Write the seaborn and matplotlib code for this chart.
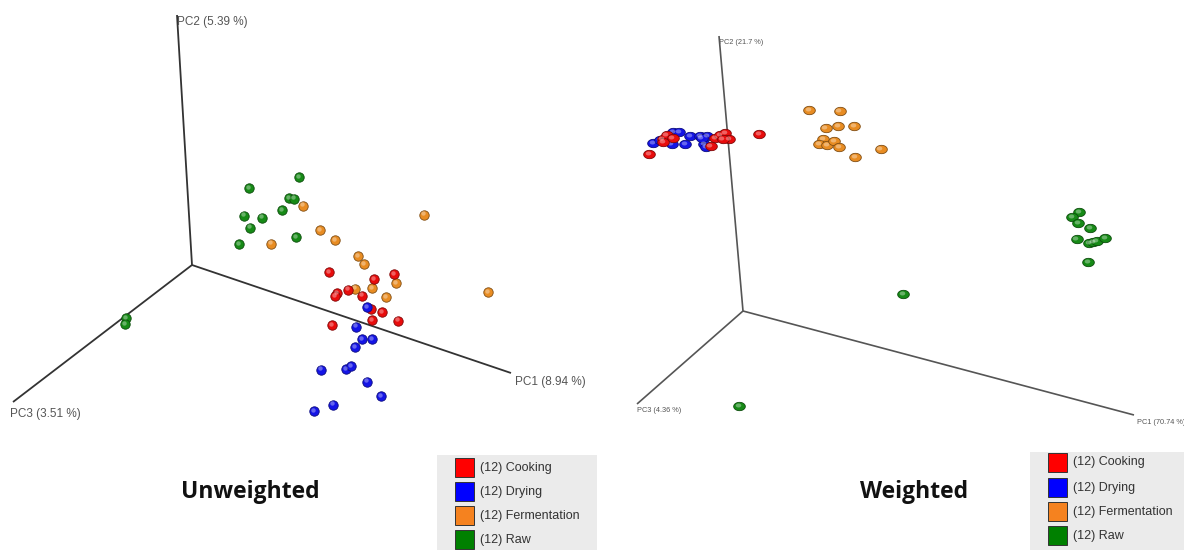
import numpy as np
import pandas as pd
import matplotlib
matplotlib.use("Agg")
import matplotlib.pyplot as plt
import matplotlib.colors as mcolors
from matplotlib.path import Path
from matplotlib.patches import Rectangle
import seaborn as sns

# ---- groups -------------------------------------------------------------
groups = ["Cooking", "Drying", "Fermentation", "Raw"]
legend_colors = {"Cooking": "#ff0000", "Drying": "#0000ff",
                 "Fermentation": "#f5821f", "Raw": "#008000"}
sphere_colors = {"Cooking": "#e80c0c", "Drying": "#1414e6",
                 "Fermentation": "#e88c22", "Raw": "#168a16"}

# ---- Unweighted UniFrac PCoA (projected scene coordinates) ---------------
uw_axis_labels = ["PC1 (8.94 %)", "PC2 (5.39 %)", "PC3 (3.51 %)"]
uw_origin = (192, 265)
uw_axis_ends = [(511, 373), (177, 15), (13, 402)]

uw_cooking_x = [329, 394.3, 374, 348.3, 337.3, 335.3, 361.7, 371.3, 381.7, 372, 398, 332.3]
uw_cooking_y = [272, 274, 279.3, 289.7, 293.3, 296, 295.7, 308.7, 312, 320, 320.7, 325]
uw_drying_x = [366.7, 356, 361.7, 372.3, 355.3, 320.7, 345.7, 351.3, 367.3, 381.3, 332.7, 314]
uw_drying_y = [307.3, 326.7, 339, 339, 347, 369.7, 369, 366.3, 381.7, 396.3, 404.7, 411]
uw_ferm_x = [302.7, 423.7, 320.3, 335, 271.3, 358, 364, 396, 372.3, 355.3, 385.7, 487.7]
uw_ferm_y = [205.7, 214.7, 230.3, 240, 243.7, 256.3, 264, 283, 288.3, 288.7, 297, 292]
uw_raw_x = [299.3, 249.3, 289.3, 294, 282.3, 244.3, 262, 250.3, 295.7, 239.3, 126, 125]
uw_raw_y = [177.3, 188.3, 198.3, 198.7, 210, 215.7, 217.7, 227.7, 237.3, 244, 318, 324]

# ---- Weighted UniFrac PCoA ----------------------------------------------
w_axis_labels = ["PC1 (70.74 %)", "PC2 (21.7 %)", "PC3 (4.36 %)"]
w_origin = (743, 311)
w_axis_ends = [(1134, 415), (719, 36), (637, 404)]

w_drying_x = [653.3, 673.3, 679.3, 690, 671.7, 685, 700, 707.3, 704, 706, 660, 701.7]
w_drying_y = [142.7, 132.3, 131.7, 136.3, 143.7, 144.3, 135.7, 135.7, 144.3, 147.3, 140, 138.3]
w_cooking_x = [649, 662.7, 666.7, 672.7, 710.7, 715, 720, 725, 729.3, 722.7, 759, 663.3]
w_cooking_y = [154.3, 139, 135, 138.3, 145.7, 137.7, 135, 133.3, 139, 139, 134.3, 141.7]
w_ferm_x = [809, 839.7, 825.7, 838.3, 854.3, 823.3, 819.3, 827.3, 834.3, 839.3, 855.3, 880.7]
w_ferm_y = [109.7, 111.3, 128, 126, 126.3, 139.3, 144, 145, 141, 147, 157, 148.7]
w_raw_x = [1079, 1072, 1078.3, 1090.3, 1076.7, 1089.3, 1093.3, 1096.7, 1105, 1088.3, 903, 739]
w_raw_y = [211.7, 217.3, 223.3, 227.7, 239.3, 243.3, 242.3, 241, 238.3, 262.3, 294, 406]


def frame(xs, ys, order):
    rows = []
    for g, x, y in zip(order, xs, ys):
        rows.append(pd.DataFrame({"x": x, "y": y, "group": g}))
    return pd.concat(rows, ignore_index=True)


uw_df = frame([uw_raw_x, uw_ferm_x, uw_cooking_x, uw_drying_x],
              [uw_raw_y, uw_ferm_y, uw_cooking_y, uw_drying_y],
              ["Raw", "Fermentation", "Cooking", "Drying"])
w_df = frame([w_drying_x, w_cooking_x, w_ferm_x, w_raw_x],
             [w_drying_y, w_cooking_y, w_ferm_y, w_raw_y],
             ["Drying", "Cooking", "Fermentation", "Raw"])

sns.set_theme(style="white")
plt.rcParams["font.family"] = ["Liberation Sans", "DejaVu Sans"]

fig = plt.figure(figsize=(11.84, 5.5), dpi=100)
ax = fig.add_axes([0, 0, 1, 1])
ax.set_xlim(0, 1184)
ax.set_ylim(550, 0)
ax.axis("off")

# flattened sphere outline for the weighted scene
t = np.linspace(0, 2 * np.pi, 60)
ellipse = Path(np.c_[np.cos(t), 0.72 * np.sin(t)], closed=True)


def draw_axes(origin, ends, labels, lw, color, fsize, offsets):
    for end, lab, off in zip(ends, labels, offsets):
        ax.plot([origin[0], end[0]], [origin[1], end[1]], color=color, lw=lw,
                solid_capstyle="butt", zorder=1)
        ax.text(end[0] + off[0], end[1] + off[1], lab, fontsize=fsize,
                color="#555555", ha="left", va="center", zorder=1)


def draw_spheres(df, size, marker, hl_size, hl_off):
    edge = {g: mcolors.to_hex(np.array(mcolors.to_rgb(c)) * 0.55)
            for g, c in sphere_colors.items()}
    for g, sub in df.groupby("group", sort=False):
        sns.scatterplot(data=sub, x="x", y="y", color=sphere_colors[g], s=size,
                        marker=marker, edgecolor=edge[g], linewidth=0.6,
                        ax=ax, legend=False, zorder=3)
        hl = sub.assign(x=sub["x"] + hl_off[0], y=sub["y"] + hl_off[1])
        sns.scatterplot(data=hl, x="x", y="y", color="white", s=hl_size,
                        marker=marker, linewidth=0, alpha=0.35,
                        ax=ax, legend=False, zorder=3)


draw_axes(uw_origin, uw_axis_ends, uw_axis_labels, 1.3, "#333333", 8.5,
          [(4, 9), (0, 7), (-3, 12)])
draw_axes(w_origin, w_axis_ends, w_axis_labels, 1.2, "#555555", 5.3,
          [(3, 7), (0, 6), (0, 6)])

draw_spheres(uw_df, 46, "o", 10, (-1.2, -1.4))
draw_spheres(w_df, 70, ellipse, 16, (-1.5, -1.0))

ax.set_xlabel("")
ax.set_ylabel("")

# ---- titles ---------------------------------------------------------------
ax.text(250, 492, "Unweighted", fontsize=16.5, fontweight="bold",
        family=["Open Sans", "DejaVu Sans"], ha="center", va="center",
        color="#111111")
ax.text(914, 492, "Weighted", fontsize=16.5, fontweight="bold",
        family=["Open Sans", "DejaVu Sans"], ha="center", va="center",
        color="#111111")


# ---- legends ---------------------------------------------------------------
def draw_legend(x0, y0, w, h, sq_x, rows_y, counts):
    ax.add_patch(Rectangle((x0, y0), w, h, facecolor="#ebebeb",
                           edgecolor="none", zorder=4))
    for g, yy in zip(groups, rows_y):
        ax.add_patch(Rectangle((sq_x, yy - 9), 19, 19,
                               facecolor=legend_colors[g],
                               edgecolor="#333333", lw=0.7, zorder=5))
        ax.text(sq_x + 25, yy + 0.5, f"({counts[g]}) {g}", fontsize=9,
                color="#333333", ha="left", va="center", zorder=5)


uw_counts = uw_df["group"].value_counts().to_dict()
w_counts = w_df["group"].value_counts().to_dict()
draw_legend(437, 455, 160, 95, 455, [467, 491, 515, 539], uw_counts)
draw_legend(1030, 452, 154, 98, 1048, [462, 487, 511, 535], w_counts)

fig.savefig("out.png", dpi=100, facecolor="white")
